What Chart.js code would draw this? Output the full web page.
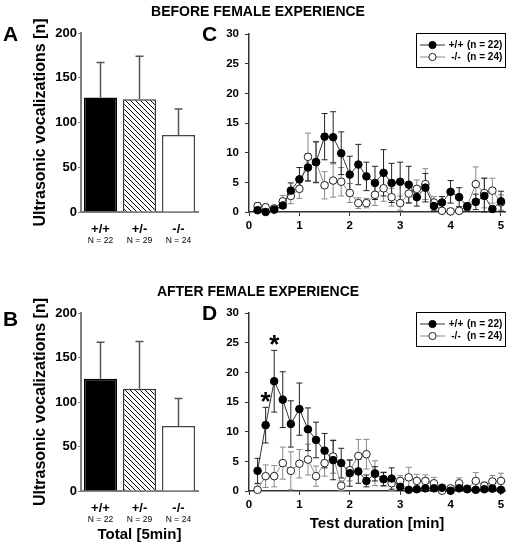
<!DOCTYPE html>
<html><head><meta charset="utf-8">
<script src="https://cdn.jsdelivr.net/npm/chart.js@4.4.0/dist/chart.umd.min.js"></script>
<style>
html,body{margin:0;padding:0;background:#fff;}
body{width:510px;height:548px;position:relative;overflow:hidden;font-family:"Liberation Sans",Arial,sans-serif;}
canvas{position:absolute;}
.t{position:absolute;font-weight:bold;white-space:nowrap;line-height:1;color:#000;z-index:5;}
</style></head><body>
<canvas id="cA" width="205" height="250" style="left:0;top:0"></canvas>
<canvas id="cB" width="205" height="278" style="left:0;top:270px"></canvas>
<canvas id="cC" width="310" height="215" style="left:200px;top:20px"></canvas>
<canvas id="cD" width="310" height="253" style="left:200px;top:295px"></canvas>
<div class="t" style="left:258px;top:4px;font-size:14px;transform:translateX(-50%)">BEFORE FEMALE EXPERIENCE</div>
<div class="t" style="left:258px;top:284px;font-size:14px;transform:translateX(-50%)">AFTER FEMALE EXPERIENCE</div>
<div class="t" style="left:3px;top:23px;font-size:21px">A</div>
<div class="t" style="left:202px;top:23px;font-size:21px">C</div>
<div class="t" style="left:3px;top:308px;font-size:21px">B</div>
<div class="t" style="left:202px;top:302px;font-size:21px">D</div>
<script>
// ---- data ----
const genotypes = ['+/+', '+/-', '-/-'];
const groupN = ['N = 22', 'N = 29', 'N = 24'];
const totalBefore = [128, 126, 86];
const totalBeforeSem = [39, 48, 29];
const totalAfter = [126, 115, 73];
const totalAfterSem = [41, 53, 31];

const timeMin = [0.17,0.33,0.5,0.67,0.83,1,1.17,1.33,1.5,1.67,1.83,2,2.17,2.33,2.5,2.67,2.83,3,3.17,3.33,3.5,3.67,3.83,4,4.17,4.33,4.5,4.67,4.83,5];
const xTickLabels = ['0','1','2','3','4','5'];

const wtBefore    = [0.3,0,0.4,1.1,3.6,5.5,7.5,8.4,12.7,12.6,9.9,6.3,8.0,6.0,4.9,6.6,4.9,5.1,4.6,2.5,4.1,1.0,1.6,3.4,2.5,0.9,1.7,2.7,0.5,1.8];
const wtBeforeSem = [0.3,0.2,0.3,0.5,1.3,2.0,2.3,3.4,3.9,4.3,3.6,3.1,3.4,2.4,2.8,3.9,3.3,3.3,3.1,1.5,2.4,0.8,1.0,1.9,1.6,0.6,1.3,3.0,0.4,1.7];
const koBefore    = [1.0,0.8,0.6,1.8,2.7,3.9,9.3,8.4,4.5,5.3,5.1,3.2,1.5,1.5,2.9,4.0,2.5,1.5,3.1,3.9,4.7,1.6,0.2,0.1,0.2,1.0,4.7,3.2,3.6,1.6];
const koBeforeSem = [0.6,0.5,0.4,1.0,1.3,1.6,4.0,3.5,2.3,2.8,2.4,1.6,0.9,0.8,1.8,2.2,1.5,1.2,1.5,1.5,2.6,1.0,0.3,0.2,0.2,0.6,2.9,2.5,2.1,1.3];

const wtAfter    = [3.4,11.1,18.5,15.4,11.3,13.8,10.4,8.6,6.8,5.2,4.7,3.0,3.3,1.7,2.9,2.0,2.1,0.7,0.2,0.3,0.45,0.45,0.55,0.05,0.45,0.3,0.2,0.3,0.4,0.2];
const wtAfterSem = [2.1,3.0,5.2,4.7,3.9,4.4,3.6,3.0,2.9,3.3,2.5,2.2,2.0,1.0,1.2,1.1,1.8,0.6,0.3,0.3,0.4,0.3,0.4,0.1,0.3,0.3,0.2,0.3,0.4,0.2];
const koAfter    = [0.2,2.5,2.5,4.7,3.4,4.6,5.3,2.5,4.7,5.8,0.9,3.5,5.9,6.2,3.0,2.0,1.3,1.7,2.3,1.7,1.7,1.3,0.05,0.45,1.3,0.4,1.7,0.9,1.6,1.7];
const koAfterSem = [1.0,1.9,1.8,2.7,3.2,2.4,2.6,1.7,2.2,2.8,0.8,1.8,2.8,2.5,2.1,1.2,1.2,0.9,1.7,1.1,1.0,1.0,0.2,0.3,0.9,0.3,1.4,0.6,1.0,1.3];

const legendGenotypes = ['+/+', '-/-'];
const legendN = ['(n = 22)', '(n = 24)'];
const starIndices = [1, 2];

// ---- setup ----
const FONT = '"Liberation Sans", Arial, sans-serif';
Chart.defaults.font.family = FONT;
Chart.defaults.color = '#000';

function hatchPattern() {
  const s = 5;
  const c = document.createElement('canvas'); c.width = s; c.height = s;
  const g = c.getContext('2d');
  g.fillStyle = '#fff'; g.fillRect(0, 0, s, s);
  g.strokeStyle = '#000'; g.lineWidth = 1;
  g.beginPath(); g.moveTo(-1, -1); g.lineTo(s + 1, s + 1); g.stroke();
  g.beginPath(); g.moveTo(-1, s - 1); g.lineTo(1, s + 1); g.stroke();
  g.beginPath(); g.moveTo(s - 1, -1); g.lineTo(s + 1, 1); g.stroke();
  return g.createPattern(c, 'repeat');
}

const barErr = {
  id: 'barErr',
  afterDatasetsDraw(chart) {
    const {ctx, scales: {y}} = chart;
    const ds = chart.data.datasets[0];
    const meta = chart.getDatasetMeta(0);
    ctx.save();
    ctx.strokeStyle = '#555'; ctx.lineWidth = 1.5;
    meta.data.forEach((el, i) => {
      const x = el.x, y0 = y.getPixelForValue(ds.data[i]), y1 = y.getPixelForValue(ds.data[i] + ds.errors[i]);
      ctx.beginPath(); ctx.moveTo(x, y0); ctx.lineTo(x, y1);
      ctx.moveTo(x - 4, y1); ctx.lineTo(x + 4, y1); ctx.stroke();
    });
    ctx.restore();
  }
};

const nLabels = {
  id: 'nLabels',
  afterDraw(chart, args, opts) {
    const {ctx, scales: {x}, chartArea} = chart;
    ctx.save();
    ctx.font = '8.5px ' + FONT; ctx.fillStyle = '#000';
    ctx.textAlign = 'center'; ctx.textBaseline = 'alphabetic';
    opts.labels.forEach((t, i) => ctx.fillText(t, x.getPixelForTick(i), chartArea.bottom + 31));
    ctx.restore();
  }
};

function barChart(id, vals, sems, topPad, xHeight, xTitle) {
  return new Chart(document.getElementById(id), {
    type: 'bar',
    data: {
      labels: genotypes,
      datasets: [{
        data: vals, errors: sems,
        backgroundColor: ['#000', hatchPattern(), '#fff'],
        borderColor: ['#000', '#333', '#444'],
        borderWidth: 1.5,
        barPercentage: 0.85, categoryPercentage: 1
      }]
    },
    options: {
      responsive: false, animation: false, devicePixelRatio: 1,
      layout: {padding: {top: topPad, right: 7, left: 0, bottom: 0}},
      plugins: {legend: {display: false}, tooltip: {enabled: false}, nLabels: {labels: groupN}},
      scales: {
        x: {
          afterFit: s => { s.height = xHeight; },
          grid: {display: false},
          border: {color: '#808080', width: 2},
          ticks: {font: {size: 13, weight: 'bold'}, padding: 2, color: '#000'},
          title: {display: !!xTitle, text: xTitle || '', font: {size: 15, weight: 'bold'}, padding: {bottom: 4, top: 0}, color: '#000'}
        },
        y: {
          min: 0, max: 200,
          afterFit: s => { s.width = 81; },
          grid: {display: true, drawOnChartArea: false, tickLength: 3, color: '#808080'},
          border: {color: '#808080', width: 2},
          ticks: {stepSize: 50, font: {size: 13, weight: 'bold'}, padding: 1, color: '#000'},
          title: {display: true, text: 'Ultrasonic vocalizations [n]', font: {size: 16, weight: 'bold'}, padding: {top: 31, bottom: 0}, color: '#000'}
        }
      }
    },
    plugins: [barErr, nLabels]
  });
}

const lineErr = {
  id: 'lineErr',
  beforeDatasetsDraw(chart) {
    const {ctx, scales: {x, y}} = chart;
    ctx.save();
    for (let d = chart.data.datasets.length - 1; d >= 0; d--) {
      const ds = chart.data.datasets[d];
      ctx.strokeStyle = ds.errorColor; ctx.lineWidth = 1;
      ds.data.forEach((v, i) => {
        const px = x.getPixelForValue(timeMin[i]);
        const hi = y.getPixelForValue(v + ds.errors[i]);
        const lo = y.getPixelForValue(Math.max(0, v - ds.errors[i]));
        ctx.beginPath();
        ctx.moveTo(px, lo); ctx.lineTo(px, hi);
        ctx.moveTo(px - 3, hi); ctx.lineTo(px + 3, hi);
        ctx.moveTo(px - 3, lo); ctx.lineTo(px + 3, lo);
        ctx.stroke();
      });
    }
    ctx.restore();
  }
};

const legendBox = {
  id: 'legendBox',
  afterDraw(chart) {
    const {ctx, chartArea: a} = chart;
    const w = 90, h = 35;
    const L = a.right - w + 1, T = a.top - 1;
    ctx.save();
    ctx.fillStyle = '#fff'; ctx.fillRect(L, T, w, h);
    ctx.strokeStyle = '#000'; ctx.lineWidth = 1; ctx.strokeRect(L + 0.5, T + 0.5, w - 1, h - 1);
    chart.data.datasets.forEach((ds, i) => {
      const y = T + 12 + i * 12;
      ctx.strokeStyle = ds.borderColor; ctx.lineWidth = 1;
      ctx.beginPath(); ctx.moveTo(L + 4, y); ctx.lineTo(L + 29, y); ctx.stroke();
      ctx.beginPath(); ctx.arc(L + 16.5, y, 3.6, 0, Math.PI * 2);
      ctx.fillStyle = ds.pointBackgroundColor; ctx.fill();
      ctx.strokeStyle = ds.pointBorderColor; ctx.stroke();
      ctx.fillStyle = '#000'; ctx.font = 'bold 10px ' + FONT;
      ctx.textBaseline = 'middle';
      ctx.textAlign = 'center'; ctx.fillText(legendGenotypes[i], L + 40, y);
      ctx.textAlign = 'left'; ctx.fillText(legendN[i], L + 51, y);
    });
    ctx.restore();
  }
};

const stars = {
  id: 'stars',
  afterDatasetsDraw(chart, args, opts) {
    if (!opts.indices) return;
    const {ctx, scales: {x, y}} = chart;
    const ds = chart.data.datasets[0];
    ctx.save();
    ctx.font = 'bold 26px ' + FONT; ctx.fillStyle = '#000';
    ctx.textAlign = 'center'; ctx.textBaseline = 'alphabetic';
    opts.indices.forEach(i => {
      const top = y.getPixelForValue(ds.data[i] + ds.errors[i]);
      ctx.fillText('*', x.getPixelForValue(timeMin[i]), top + 3);
    });
    ctx.restore();
  }
};

function buildLine(id, wt, wtSem, ko, koSem, topPad, xHeight, xTitle, starIdx) {
  return new Chart(document.getElementById(id), {
    type: 'line',
    data: {
      labels: timeMin,
      datasets: [
        {
          label: '+/+ (n = 22)', data: wt, errors: wtSem,
          borderColor: '#333', borderWidth: 1, errorColor: '#222',
          pointBackgroundColor: '#000', pointBorderColor: '#000', pointBorderWidth: 1, pointRadius: 3.8,
          clip: false, order: 0
        },
        {
          label: '-/- (n = 24)', data: ko, errors: koSem,
          borderColor: '#8a8a8a', borderWidth: 1, errorColor: '#8a8a8a',
          pointBackgroundColor: '#fff', pointBorderColor: '#222', pointBorderWidth: 1, pointRadius: 3.8,
          clip: false, order: 1
        }
      ]
    },
    options: {
      responsive: false, animation: false, devicePixelRatio: 1,
      layout: {padding: {top: topPad, right: 5, left: 0, bottom: 0}},
      plugins: {legend: {display: false}, tooltip: {enabled: false}, stars: {indices: starIdx}},
      scales: {
        x: {
          type: 'linear', min: 0, max: 5.08,
          afterFit: s => { s.height = xHeight; },
          grid: {display: true, drawOnChartArea: false, tickLength: 4, color: '#333'},
          border: {color: '#333', width: 1.5},
          ticks: {stepSize: 1, includeBounds: false, font: {size: 11.5, weight: 'bold'}, padding: 3, color: '#000',
                  callback: (v) => xTickLabels[v]},
          title: {display: !!xTitle, text: xTitle || '', font: {size: 15, weight: 'bold'}, padding: {bottom: 15, top: 0}, color: '#000'}
        },
        y: {
          min: 0, max: 30,
          afterFit: s => { s.width = 49; },
          grid: {display: true, drawOnChartArea: false, tickLength: 4, color: '#333'},
          border: {color: '#333', width: 1.5},
          ticks: {stepSize: 5, font: {size: 11.5, weight: 'bold'}, padding: 6, color: '#000'}
        }
      }
    },
    plugins: [lineErr, legendBox, stars]
  });
}

barChart('cA', totalBefore, totalBeforeSem, 33, 38, null);
barChart('cB', totalAfter, totalAfterSem, 43, 57, 'Total [5min]');
buildLine('cC', wtBefore, wtBeforeSem, koBefore, koBeforeSem, 14, 23, null, null);
buildLine('cD', wtAfter, wtAfterSem, koAfter, koAfterSem, 18, 57, 'Test duration [min]', starIndices);
</script>
</body></html>
